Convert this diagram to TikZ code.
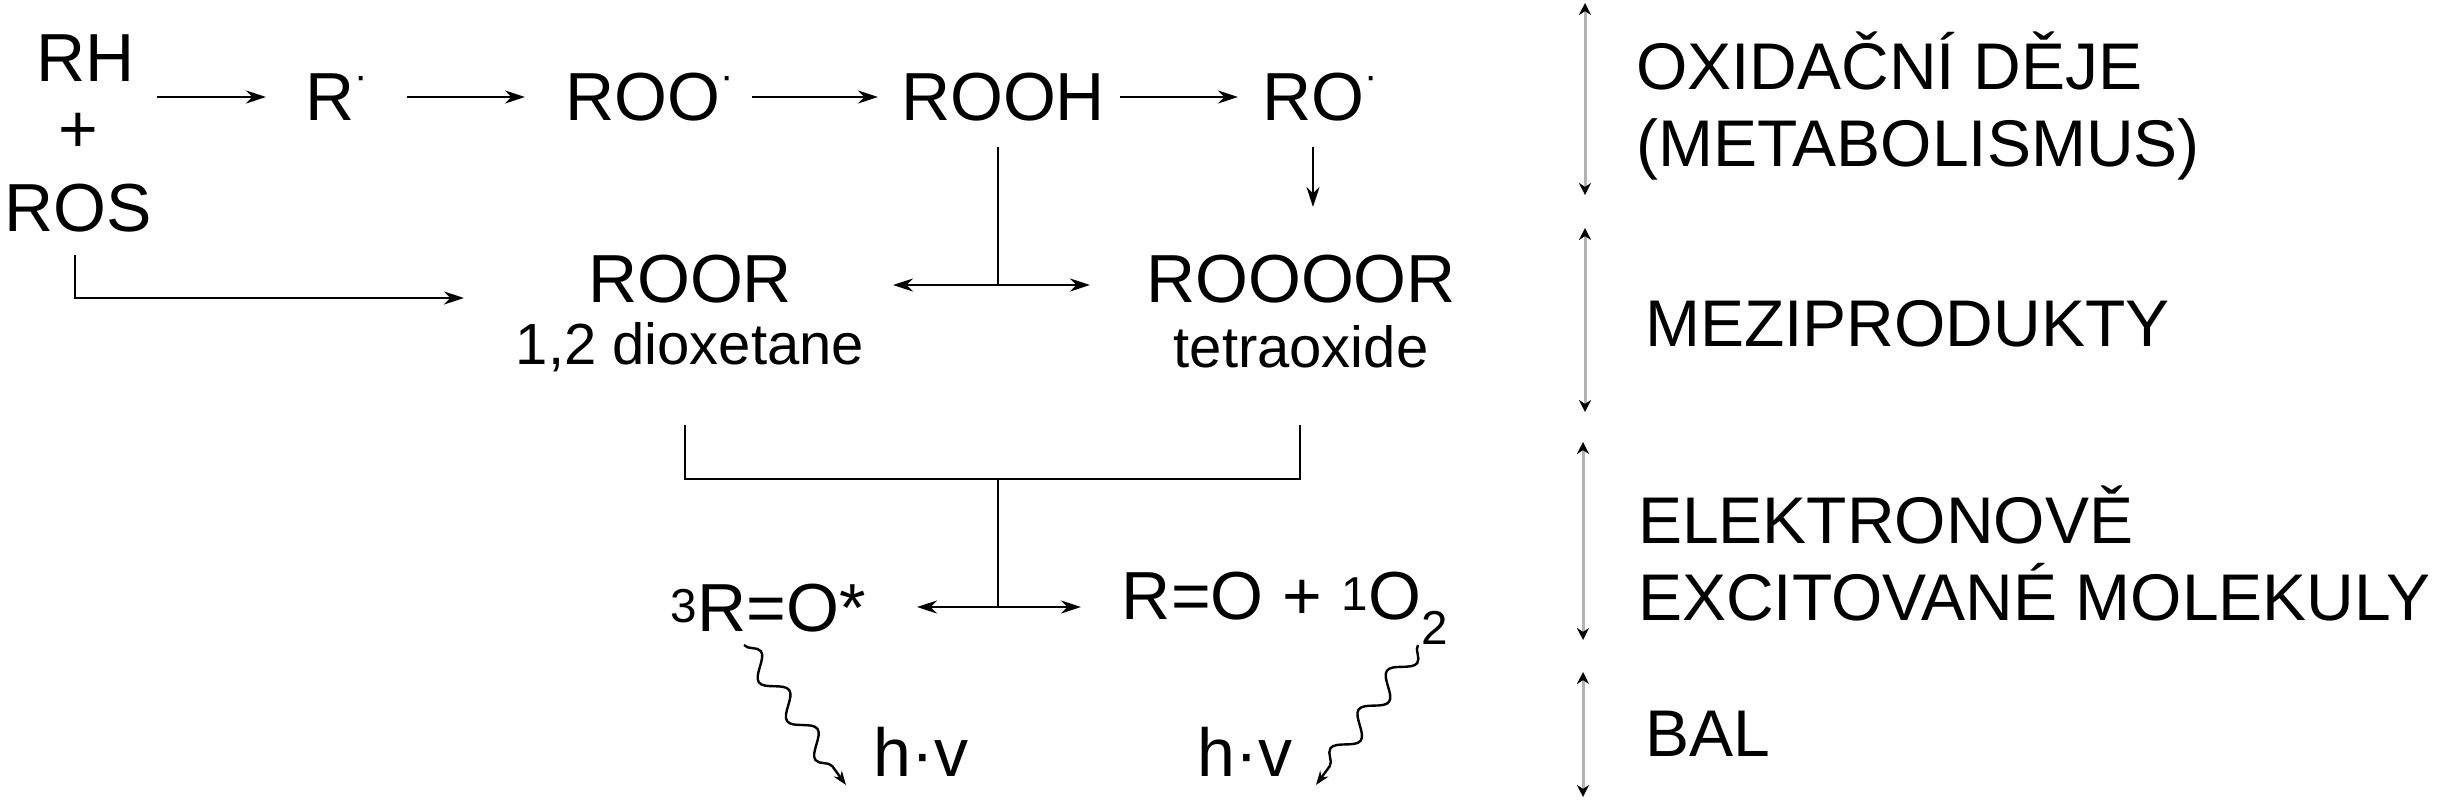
\documentclass[tikz,border=0pt]{standalone}
\usepackage{fontspec}
\setmainfont{Liberation Sans}
\usetikzlibrary{arrows.meta,decorations.pathmorphing}
\begin{document}
\begin{tikzpicture}[x=1pt,y=-1pt,
 big/.style={font=\fontsize{68}{74}\selectfont,inner sep=0pt},
 small/.style={font=\fontsize{58}{64}\selectfont,inner sep=0pt},
 lab/.style={font=\fontsize{66}{77}\selectfont,inner sep=0pt,anchor=west,align=left},
 ar/.style={line width=2.6pt,-{Stealth[length=20pt,width=13pt]}},
 dar/.style={line width=2.6pt,{Stealth[length=20pt,width=13pt]}-{Stealth[length=20pt,width=13pt]}},
 ln/.style={line width=2.4pt},
 gar/.style={line width=3pt,draw=black!30,{Stealth[length=12pt,width=12pt,fill=black,color=black]}-{Stealth[length=12pt,width=12pt,fill=black,color=black]}},
 wav/.style={line width=2.4pt,decorate,decoration={snake,segment length=48pt,amplitude=10pt,post length=16pt},-{Stealth[length=14pt,width=10pt]}}]
\useasboundingbox (0,0) rectangle (2458,800);
\newcommand{\rad}{\raisebox{0.45em}{\fontsize{40}{40}\selectfont ·}}
\node[big] (rh) at (86,58) {RH};
\node[big] (pl) at (78,133) {+};
\node[big] (ros) at (78,208) {ROS};
\node[big] (r) at (337,97) {R\rad};
\node[big] (roo) at (650,97) {ROO\rad};
\node[big] (rooh) at (1003,97) {ROOH};
\node[big] (ro) at (1320,97) {RO\rad};
\draw[ar] (157,97) -- (266,97);
\draw[ar] (407,97) -- (525,97);
\draw[ar] (752,97) -- (878,97);
\draw[ar] (1120,97) -- (1238,97);
\node[big] (roor) at (690,279) {ROOR};
\node[small] (diox) at (690,347) {1,2 dioxetane};
\node[big] (rooor) at (1301,279) {ROOOOR};
\node[small] (tetra) at (1301,347) {tetraoxide};
\draw[ar] (1313,147) -- (1313,207);
\draw[ln,-{Stealth[length=20pt,width=13pt]}] (75,255) |- (464,298);
\coordinate (mid1) at (998,285);
\draw[ln] (998,147) -- (mid1);
\draw[dar] (893,285) -- (1090,285);
\coordinate (bl) at (685,479);
\coordinate (br) at (1300,479);
\draw[ln] (685,425) -- (bl) -- (br) -- (1300,425);
\coordinate (mid2) at (998,607);
\draw[ln] (998,479) -- (mid2);
\draw[dar] (917,607) -- (1081,607);
\node[big] (rox) at (768,608) {\textsuperscript{3}R=O*};
\node[big] (ro2) at (1285,608) {R=O + \textsuperscript{1}O\textsubscript{2}};
\node[big] (hv1) at (921,752) {h·v};
\node[big] (hv2) at (1245,752) {h·v};
\draw[wav] (744,645) -- (846,785);
\draw[wav] (1418,645) -- (1316,785);
\draw[gar] (1585,3) -- (1585,195);
\draw[gar] (1585,228) -- (1585,412);
\draw[gar] (1583,442) -- (1583,640);
\draw[gar] (1583,672) -- (1583,797);
\node[lab] (l1) at (1636,106) {OXIDAČNÍ DĚJE\\(METABOLISMUS)};
\node[lab] (l2) at (1645,324) {MEZIPRODUKTY};
\node[lab] (l3) at (1638,553) {ELEKTRONOVĚ\\EXCITOVANÉ MOLEKULY};
\node[lab] (l4) at (1645,734) {BAL};
\end{tikzpicture}
\end{document}
